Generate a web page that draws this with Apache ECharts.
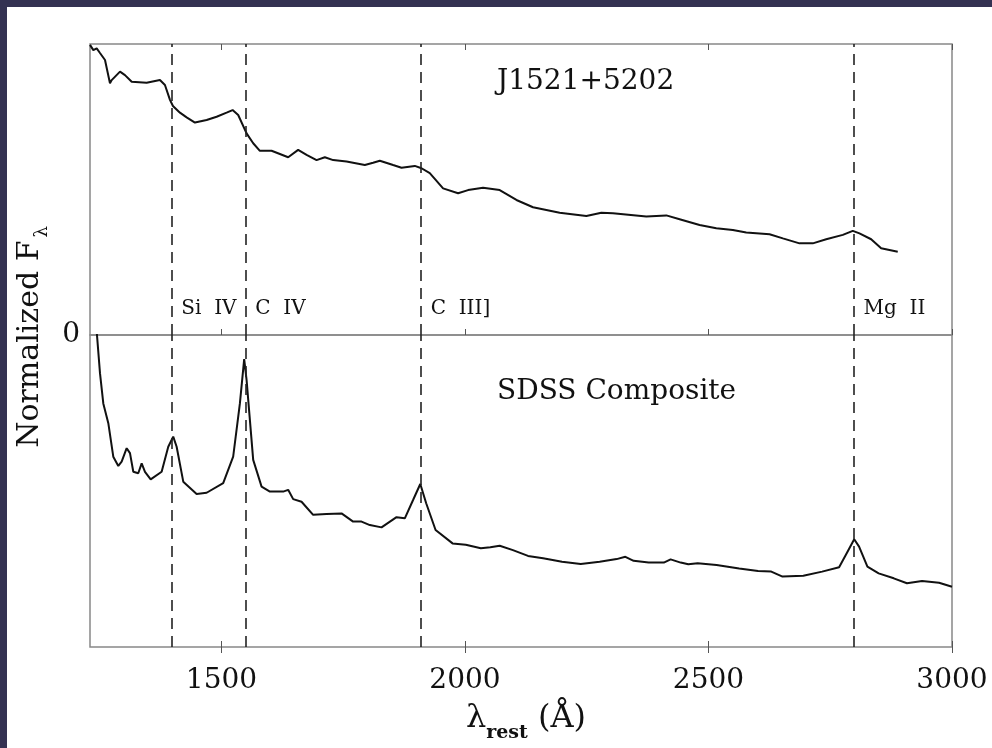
<!DOCTYPE html>
<html>
<head>
<meta charset="utf-8">
<script src="https://cdn.jsdelivr.net/npm/echarts@6/dist/echarts.min.js"></script>
<style>
html,body{margin:0;padding:0;width:992px;height:748px;overflow:hidden;background:#343252;}
#chart{position:absolute;left:7px;top:7px;width:985px;height:741px;background:#fff;}
</style>
</head>
<body>
<div id="chart"></div>
<script>
// Wavelength (Angstrom, rest frame) and normalized flux for J1521+5202 (upper panel)
var topWave = [1230,1236.8,1243.7,1250.5,1254,1260.8,1271,1274.5,1291.6,1301.8,1315.6,1346.3,1373.6,1383.9,1394.2,1400.3,1414.7,1428.4,1445.5,1469.5,1490,1510.5,1522.8,1534.3,1551.5,1565.1,1578.8,1602.8,1619.9,1636.9,1657.4,1674.7,1695.2,1712.2,1729.3,1756.8,1794.3,1811.3,1825.1,1852.4,1869.6,1896.9,1910.7,1927.7,1955,1985.8,2006.3,2037.1,2071.3,2105.6,2139.7,2194.4,2249.2,2280,2303.8,2372.3,2413.4,2440.7,2481.7,2516,2550,2577.5,2625.4,2652.7,2686.9,2714.2,2741.7,2775.8,2796.3,2810,2834,2854.5,2888.6];
var topFlux = [0.997,0.979,0.985,0.969,0.974,0.945,0.865,0.876,0.905,0.893,0.870,0.867,0.876,0.859,0.808,0.787,0.764,0.748,0.730,0.739,0.750,0.764,0.773,0.756,0.693,0.659,0.633,0.633,0.622,0.611,0.636,0.619,0.601,0.611,0.601,0.596,0.584,0.592,0.599,0.584,0.575,0.581,0.573,0.556,0.504,0.487,0.498,0.506,0.498,0.464,0.439,0.420,0.409,0.420,0.418,0.407,0.411,0.398,0.378,0.367,0.361,0.352,0.346,0.332,0.315,0.315,0.329,0.344,0.358,0.349,0.329,0.298,0.286];

// SDSS composite quasar spectrum (lower panel)
var compWave = [1243,1250.5,1257.3,1267.6,1277.8,1288.1,1295,1305.3,1312.1,1318.9,1329.1,1336.1,1342.9,1354.6,1377.1,1390.7,1400.9,1407.9,1421.5,1448.9,1469.5,1503.5,1524,1537.8,1546.6,1551.5,1565.1,1582.3,1599.4,1626.7,1636.9,1647.2,1664.4,1688.2,1715.7,1746.5,1770.3,1787.5,1804.6,1828.6,1859.4,1876.4,1893.4,1908.2,1920.3,1939.6,1974.5,2001.6,2032.5,2052,2071.3,2098.4,2129.4,2160.4,2199.2,2237.7,2276.5,2311.4,2329.3,2346.3,2377.1,2408.3,2422.2,2442.9,2458.5,2477.8,2516.6,2563,2601.8,2628.9,2652,2694.7,2733.3,2768.2,2783.8,2799.2,2809.2,2826.3,2849.4,2880.4,2907.5,2938.5,2973.4,3000];
var compFlux = [1.10,0.941,0.837,0.769,0.654,0.622,0.637,0.683,0.666,0.602,0.597,0.631,0.602,0.576,0.602,0.688,0.723,0.688,0.568,0.526,0.530,0.563,0.654,0.837,0.989,0.918,0.643,0.551,0.534,0.534,0.540,0.508,0.499,0.454,0.457,0.459,0.431,0.431,0.419,0.411,0.446,0.442,0.505,0.560,0.494,0.402,0.356,0.351,0.339,0.343,0.348,0.333,0.313,0.305,0.293,0.285,0.293,0.302,0.310,0.296,0.290,0.290,0.301,0.290,0.284,0.288,0.282,0.270,0.261,0.259,0.242,0.245,0.259,0.274,0.322,0.370,0.345,0.276,0.253,0.236,0.219,0.227,0.221,0.207];

// Emission lines marked with dashed lines
var lineWaves = [1397, 1549, 1909, 2798];
var lineNames = ['Si  IV', 'C  IV', 'C  III]', 'Mg  II'];
var lineLabelLevel = [0.09, 0.09, 0.09, 0.09];

// Axis ticks
var xTicks = [1500, 2000, 2500, 3000];
var xMin = 1230, xMax = 3000;
var topMax = 1.0, botMax = 1.072;

var FONT = 'DejaVu Serif';
function zip(a, b) { return a.map(function (v, i) { return [v, b[i]]; }); }

var chart = echarts.init(document.getElementById('chart'), null, {renderer: 'canvas'});

function xAx(gi, pos, showLabel) {
  return {
    type: 'value', gridIndex: gi, position: pos, min: xMin, max: xMax,
    axisLine: {show: false},
    splitLine: {show: false},
    axisTick: {show: true, inside: true, length: 6, customValues: xTicks, lineStyle: {color: '#555', width: 1}},
    axisLabel: {show: showLabel, customValues: xTicks, fontFamily: FONT, fontSize: 28, color: '#111', margin: 20,
      formatter: function (v) { return String(v); }}
  };
}

var dashStyle = {type: [11, 7], color: '#222', width: 1.6};
var mlData = lineWaves.map(function (w) { return {xAxis: w}; });

chart.setOption({
  animation: false,
  backgroundColor: '#fff',
  grid: [
    {left: 83, top: 37, width: 862, height: 291, show: true, borderColor: '#888', borderWidth: 1.5, backgroundColor: 'transparent', containLabel: false, outerBoundsMode: 'none'},
    {left: 83, top: 328, width: 862, height: 312, show: true, borderColor: '#888', borderWidth: 1.5, backgroundColor: 'transparent', containLabel: false, outerBoundsMode: 'none'}
  ],
  title: [
    {text: 'J1521+5202', left: 485, top: 56, textStyle: {fontFamily: FONT, fontSize: 28, fontWeight: 'normal', color: '#111'}},
    {text: 'SDSS Composite', left: 485, top: 366, textStyle: {fontFamily: FONT, fontSize: 28, fontWeight: 'normal', color: '#111'}}
  ],
  xAxis: [
    xAx(0, 'bottom', false), xAx(0, 'top', false),
    xAx(1, 'top', false), xAx(1, 'bottom', true)
  ],
  yAxis: [
    {type: 'value', gridIndex: 0, min: 0, max: topMax, interval: 1,
      axisLine: {show: false}, axisTick: {show: false}, splitLine: {show: false},
      axisLabel: {fontFamily: FONT, fontSize: 28, color: '#111', margin: 10, padding: [0, 0, 12, 0],
        formatter: function (v) { return v === 0 ? '0' : ''; }}},
    {type: 'value', gridIndex: 1, min: 0, max: botMax,
      axisLine: {show: false}, axisTick: {show: false}, splitLine: {show: false}, axisLabel: {show: false}}
  ],
  graphic: [
    {type: 'text', x: 26, y: 330, rotation: Math.PI / 2,
      style: {text: '{n|Normalized F}{s|λ}', align: 'center', verticalAlign: 'middle',
        fill: '#111',
        rich: {
          n: {fontFamily: FONT, fontSize: 30, fill: '#111', color: '#111', verticalAlign: 'bottom', padding: [0, 0, 6, 0]},
          s: {fontFamily: FONT, fontSize: 18, fill: '#111', color: '#111', verticalAlign: 'bottom', padding: [0, 0, 0, 3]}
        }}},
    {type: 'text', x: 519, y: 716,
      style: {text: '{l|λ}{s|rest}{l| (Å)}', align: 'center', verticalAlign: 'middle',
        fill: '#111',
        rich: {
          l: {fontFamily: FONT, fontSize: 32, fill: '#111', color: '#111', verticalAlign: 'bottom', padding: [0, 0, 8, 0]},
          s: {fontFamily: FONT, fontSize: 19, fontWeight: 'bold', fill: '#111', color: '#111', verticalAlign: 'bottom'}
        }}}
  ],
  series: [
    {type: 'line', xAxisIndex: 0, yAxisIndex: 0, data: zip(topWave, topFlux), showSymbol: false, clip: true,
      lineStyle: {color: '#111', width: 2}, silent: true,
      markLine: {symbol: ['none', 'none'], silent: true, label: {show: false}, lineStyle: dashStyle, data: mlData}},
    {type: 'line', xAxisIndex: 3, yAxisIndex: 1, data: zip(compWave, compFlux), showSymbol: false, clip: true,
      lineStyle: {color: '#111', width: 2}, silent: true,
      markLine: {symbol: ['none', 'none'], silent: true, label: {show: false}, lineStyle: dashStyle, data: mlData}},
    {type: 'scatter', xAxisIndex: 0, yAxisIndex: 0, symbolSize: 0, silent: true,
      itemStyle: {opacity: 1},
      data: lineWaves.map(function (w, i) { return {value: [w, lineLabelLevel[i]], name: lineNames[i]}; }),
      label: {show: true, position: 'right', distance: 10, formatter: '{b}', fontFamily: FONT, fontSize: 20, color: '#111', opacity: 1}}
  ]
});
</script>
</body>
</html>
